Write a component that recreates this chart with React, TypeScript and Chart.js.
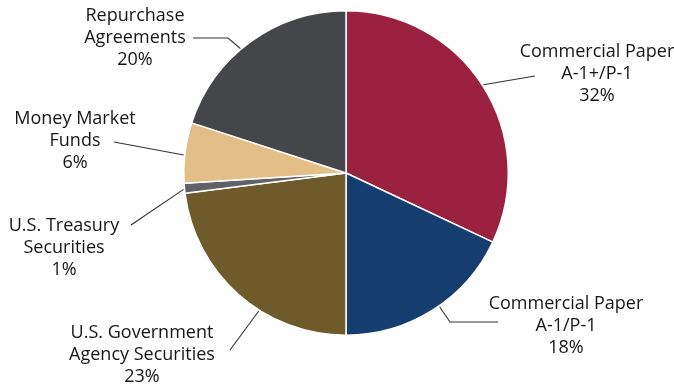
import React, { useEffect, useRef } from "react";
import { Chart, registerables } from "chart.js";

Chart.register(...registerables);

const categories: string[][] = [
  ["Commercial Paper", "A-1+/P-1"],
  ["Commercial Paper", "A-1/P-1"],
  ["U.S. Government", "Agency Securities"],
  ["U.S. Treasury", "Securities"],
  ["Money Market", "Funds"],
  ["Repurchase", "Agreements"],
];
const shares: number[] = [32, 18, 23, 1, 6, 20];
const percentLabels: string[] = ["32%", "18%", "23%", "1%", "6%", "20%"];
const colors: string[] = ["#9B2140", "#153E6E", "#6E5A2A", "#606066", "#E3BE87", "#45464A"];

// label layout: fraction along slice where leader starts, leader path points, text center & first line y
const labelLayout = [
  { frac: 0.497, path: [[535, 76]], cx: 597, y0: 52 },
  { frac: 0.46, path: [[450, 322], [498, 322]], cx: 566, y0: 304 },
  { frac: 0.39, path: [[230, 350]], cx: 142, y0: 333 },
  { frac: 0.4, path: [[131, 225]], cx: 64, y0: 226 },
  { frac: 0.46, path: [[114, 142]], cx: 75, y0: 119 },
  { frac: 0.44, path: [[228, 38], [193, 38]], cx: 135, y0: 16 },
];

const FONT = "500 18px 'Open Sans'";
const LINE_H = 22;

const labelPlugin = {
  id: "outerLabels",
  afterDatasetsDraw(chart: any) {
    const ctx = chart.ctx;
    const meta = chart.getDatasetMeta(0);
    ctx.save();
    meta.data.forEach((arc: any, i: number) => {
      const p = arc.getProps(["x", "y", "startAngle", "endAngle", "outerRadius"], true);
      const lay = labelLayout[i];
      const ang = p.startAngle + (p.endAngle - p.startAngle) * lay.frac;
      const r = p.outerRadius + 1;
      const sx = p.x + Math.cos(ang) * r;
      const sy = p.y + Math.sin(ang) * r;
      ctx.strokeStyle = "#333333";
      ctx.lineWidth = 1.1;
      ctx.beginPath();
      ctx.moveTo(sx, sy);
      lay.path.forEach(([x, y]) => ctx.lineTo(x, y));
      ctx.stroke();
      ctx.fillStyle = "#161616";
      ctx.font = FONT;
      ctx.textAlign = "center";
      ctx.textBaseline = "middle";
      const lines = [...categories[i], percentLabels[i]];
      lines.forEach((t, k) => ctx.fillText(t, lay.cx, lay.y0 + k * LINE_H));
    });
    ctx.restore();
  },
};

export default function App() {
  const ref = useRef<HTMLCanvasElement>(null);
  useEffect(() => {
    if (!ref.current) return;
    const chart = new Chart(ref.current, {
      type: "pie",
      data: {
        labels: categories.map((c) => c.join(" ")),
        datasets: [
          {
            data: shares,
            backgroundColor: colors,
            borderColor: "#ffffff",
            borderWidth: 1.5,
          },
        ],
      },
      options: {
        responsive: false,
        animation: false,
        layout: { padding: { top: 10, bottom: 49, left: 183, right: 165 } },
        plugins: { legend: { display: false }, tooltip: { enabled: false } },
      },
      plugins: [labelPlugin],
    });
    return () => chart.destroy();
  }, []);
  return (
    <div style={{ position: "fixed", left: 0, top: 0, width: 674, height: 385, background: "#fff" }}>
      <canvas ref={ref} width={674} height={385} style={{ width: 674, height: 385 }} />
    </div>
  );
}
